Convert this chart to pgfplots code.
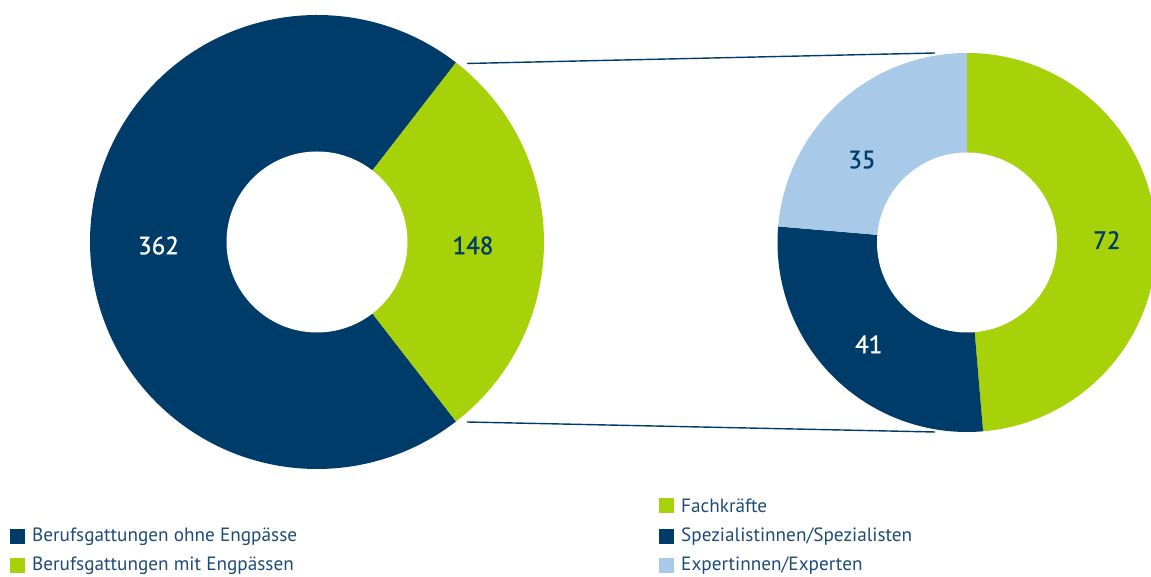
\documentclass[border=0pt]{standalone}
\usepackage{pgfplots}
\usepackage{pgfplotstable}
\pgfplotsset{compat=1.18}
\usetikzlibrary{calc}
\usepackage{fontspec}
\setmainfont{PT Sans}
\newfontfamily\numfont[FakeBold=1.2]{PT Sans}
\definecolor{dblue}{HTML}{003C69}
\definecolor{lgreen}{HTML}{A7D108}
\definecolor{lblue}{HTML}{A8C9E7}
\definecolor{ltext}{HTML}{1E4B78}

\pgfplotstableread{
label value
ohne 362
mit 148
}\lefttable
\pgfplotstableread{
label value
Fachkraefte 72
Spezialisten 41
Experten 35
}\righttable

\begin{document}
\begin{tikzpicture}
\pgfplotstablegetelem{0}{value}\of\lefttable \let\La\pgfplotsretval
\pgfplotstablegetelem{1}{value}\of\lefttable \let\Lb\pgfplotsretval
\pgfplotstablegetelem{0}{value}\of\righttable \let\Ra\pgfplotsretval
\pgfplotstablegetelem{1}{value}\of\righttable \let\Rb\pgfplotsretval
\pgfplotstablegetelem{2}{value}\of\righttable \let\Rc\pgfplotsretval
% left donut angles: green centred at 0 deg
\pgfmathsetmacro{\Lg}{\Lb/(\La+\Lb)*180}
\pgfmathsetmacro{\LgS}{-\Lg}
\pgfmathsetmacro{\LgE}{\Lg}
\pgfmathsetmacro{\LbE}{360-\Lg}
% right donut: start at 90, clockwise
\pgfmathsetmacro{\Rtot}{\Ra+\Rb+\Rc}
\pgfmathsetmacro{\RaE}{90-\Ra/\Rtot*360}
\pgfmathsetmacro{\RbE}{\RaE-\Rb/\Rtot*360}
\pgfmathsetmacro{\RcE}{\RbE-\Rc/\Rtot*360}
\pgfmathsetmacro{\RaM}{(90+\RaE)/2}
\pgfmathsetmacro{\RbM}{(\RaE+\RbE)/2}
\pgfmathsetmacro{\RcM}{(\RbE+\RcE)/2+8}
\begin{axis}[x=1bp,y=1bp,xmin=0,xmax=1151,ymin=0,ymax=577,hide axis,clip=false,
  anchor=south west]
\coordinate (BL) at (axis cs:0,0);
\coordinate (TR) at (axis cs:1151,577);
% connector lines
\draw[dblue,line width=1.4bp] (axis cs:467,513.5) -- (axis cs:935,524);
\draw[dblue,line width=1.4bp] (axis cs:467,155) -- (axis cs:935,145);
% left donut
\coordinate (LC) at (axis cs:317,335);
\fill[dblue] (LC) -- ++(\LgE:227bp) arc[start angle=\LgE,end angle=\LbE,radius=227bp] -- cycle;
\fill[lgreen] (LC) -- ++(\LgS:227bp) arc[start angle=\LgS,end angle=\LgE,radius=227bp] -- cycle;
\fill[white] (LC) circle[radius=90.5bp];
\tikzset{num/.style={font=\numfont\fontsize{25}{30}\selectfont,yshift=-3.5bp}}
\node[white,num] at ($(LC)+(180:158.5bp)$) {\La};
\node[dblue,num] at ($(LC)+(0:156bp)$) {\Lb};
% right donut
\coordinate (RC) at (axis cs:967,334.5);
\fill[lgreen] (RC) -- ++(90:189.5bp) arc[start angle=90,end angle=\RaE,radius=189.5bp] -- cycle;
\fill[dblue] (RC) -- ++(\RaE:189.5bp) arc[start angle=\RaE,end angle=\RbE,radius=189.5bp] -- cycle;
\fill[lblue] (RC) -- ++(\RbE:189.5bp) arc[start angle=\RbE,end angle=\RcE,radius=189.5bp] -- cycle;
\fill[white] (RC) circle[radius=90bp];
\node[dblue,num] at ($(RC)+(\RaM:140bp)$) {\Ra};
\node[white,num] at ($(RC)+(\RbM:139bp)$) {\Rb};
\node[dblue,num] at ($(RC)+(\RcM:136bp)$) {\Rc};
% legends
\tikzset{leg/.style={anchor=west,ltext,inner sep=0pt,font=\fontsize{19.3}{23}\selectfont}}
\fill[dblue] (axis cs:9.5,32.5) rectangle (axis cs:24.5,47.5);
\node[leg] at (axis cs:32,40) {Berufsgattungen ohne Engpässe};
\fill[lgreen] (axis cs:9.5,3.5) rectangle (axis cs:24.5,18.5);
\node[leg] at (axis cs:32,11) {Berufsgattungen mit Engpässen};
\fill[lgreen] (axis cs:659,63.5) rectangle (axis cs:674,78.5);
\node[leg] at (axis cs:681,71) {Fachkräfte};
\fill[dblue] (axis cs:659,32.5) rectangle (axis cs:674,47.5);
\node[leg] at (axis cs:681,40) {Spezialistinnen/Spezialisten};
\fill[lblue] (axis cs:659,3.5) rectangle (axis cs:674,18.5);
\node[leg] at (axis cs:681,11) {Expertinnen/Experten};
\end{axis}
\pgfresetboundingbox
\useasboundingbox (BL) rectangle (TR);
\end{tikzpicture}
\end{document}
